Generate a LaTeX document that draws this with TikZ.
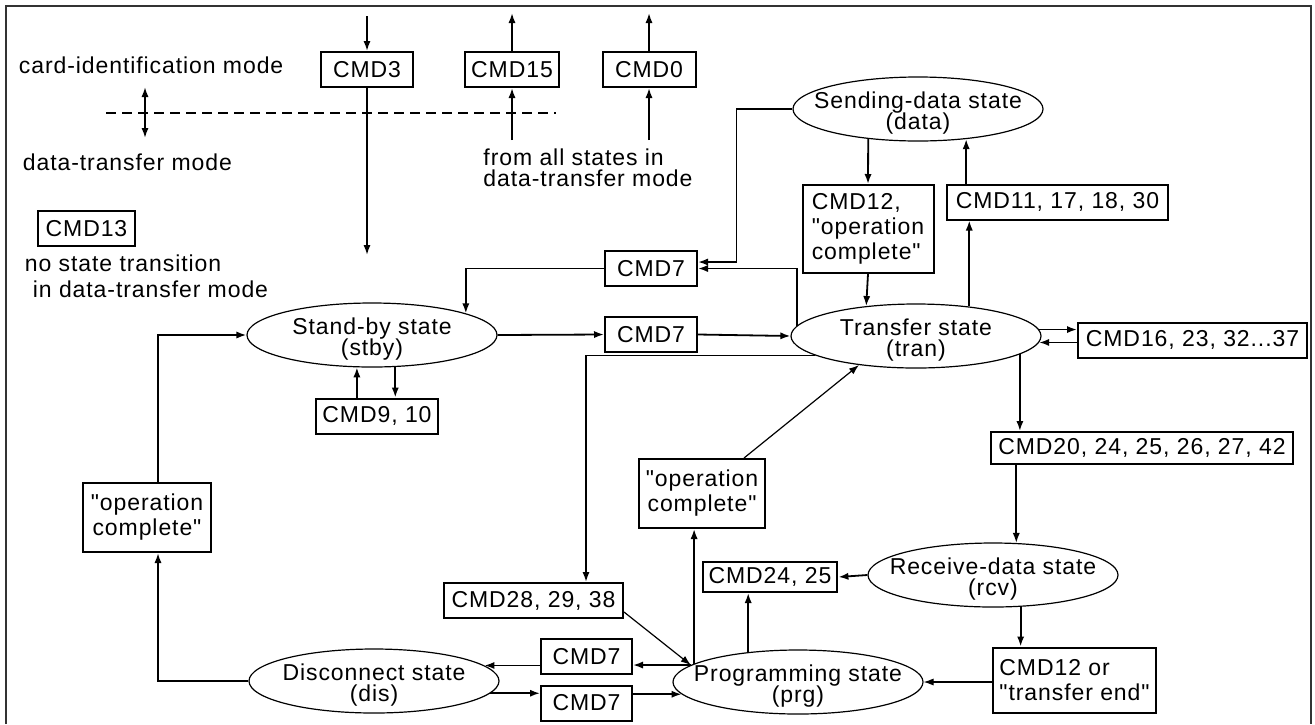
\documentclass[tikz,border=0pt]{standalone}
\usepackage{fontspec}
\setmainfont{Liberation Sans}[LetterSpace=4.0,Ligatures=TeXOff]
\usetikzlibrary{arrows.meta,shapes.geometric}

\newcommand\boxfont{\fontsize{11.5}{12.5}\selectfont\lineskiplimit=-5pt}
\newcommand\statefont{\fontsize{11.5}{10.2}\selectfont\lineskiplimit=-5pt}
\newcommand\notefont{\fontsize{11.5}{10.5}\selectfont\lineskiplimit=-5pt}

\begin{document}
\begin{tikzpicture}[x=0.5pt,y=-0.5pt,>={Latex[length=5pt,width=3.6pt]},line width=0.9pt]
    \tikzstyle{cmd}=[draw,line width=1pt,inner xsep=3pt,inner ysep=1pt,minimum height=17.5pt,font=\boxfont]
    \tikzstyle{state}=[ellipse,draw,line width=0.6pt,minimum width=125pt,minimum height=32pt,inner xsep=-20pt,inner ysep=-2pt,text height=22.6pt,align=center,font=\statefont]
    \tikzstyle{annot}=[inner sep=0pt,font=\notefont]
    \tikzstyle{flow}=[->]
    \tikzstyle{slim flow}=[->,line width=0.6pt]

    \useasboundingbox (0,0) rectangle (1315,724);
    \draw[line width=1.3pt,black!80] (6,724) -- (6,6) -- (1311,6) -- (1311,724);

    % Mode legend
    \node[annot,anchor=west] (L-card) at (18,65) {card-identification mode};
    \node[annot,anchor=west] (L-data) at (22,162) {data-transfer mode};
    \coordinate (M-up) at (145,87);
    \coordinate (M-down) at (145,138);
    \coordinate (D-left) at (106,113);
    \coordinate (D-right) at (556,113);
    \draw[dash pattern=on 5pt off 3pt,line width=0.8pt] (D-left) -- (D-right);
    \draw[<->] (M-up) -- (M-down);
    \node[cmd,minimum width=48.5pt] (C-13) at (86.5,228.5) {CMD13};
    \node[annot,anchor=west,align=left,font=\fontsize{11.5}{13}\selectfont] (L-13) at (24,276)
        {no state transition\\\hspace*{4pt}in data-transfer mode};

    % Commands at the top
    \node[cmd,minimum width=46pt] (C-3) at (367,69.5) {CMD3};
    \node[cmd,minimum width=45pt] (C-15) at (512,69.5) {CMD15};
    \node[cmd,minimum width=46.5pt] (C-0) at (649,69.5) {CMD0};
    \node[annot,align=left] (L-all) at (588,168) {from all states in\\data-transfer mode};
    \coordinate (C-3in) at (367,16);
    \coordinate (C-3out) at (367,255);
    \coordinate (C-15out) at (512,13);
    \coordinate (C-15in) at (512,140);
    \coordinate (C-0out) at (649,13);
    \coordinate (C-0in) at (649,140);
    \draw[flow] (C-3in) -- (C-3.north);
    \draw[flow] (C-3.south) -- (C-3out);
    \draw[flow] (C-15.north) -- (C-15out);
    \draw[flow] (C-15in) -- (C-15.south);
    \draw[flow] (C-0.north) -- (C-0out);
    \draw[flow] (C-0in) -- (C-0.south);

    % States
    \node[state] (S-data) at (918,109) {Sending-data state\\(data)};
    \node[state] (S-stby) at (372,335) {Stand-by state\\(stby)};
    \node[state] (S-tran) at (916,336) {Transfer state\\(tran)};
    \node[state] (S-rcv) at (993,575) {Receive-data state\\(rcv)};
    \node[state] (S-dis) at (374,681) {Disconnect state\\(dis)};
    \node[state] (S-prg) at (798,682) {Programming state\\(prg)};

    % Transitions
    \node[cmd,minimum width=65.5pt,minimum height=44pt,align=left] (C-12) at (868,229) {CMD12,\\"operation\\complete"};
    \node[cmd,minimum width=110.5pt] (C-11) at (1057.5,202) {CMD11, 17, 18, 30};
    \node[cmd,minimum width=46pt] (C-7a) at (651,268.5) {CMD7};
    \node[cmd,minimum width=46pt] (C-7b) at (651,334.5) {CMD7};
    \node[cmd,minimum width=114.5pt] (C-16) at (1192.5,340) {CMD16, 23, 32...37};
    \node[cmd,minimum width=59pt] (C-9) at (377,416) {CMD9, 10};
    \node[cmd,minimum width=151pt,minimum height=16pt] (C-20) at (1142,448) {CMD20, 24, 25, 26, 27, 42};
    \node[cmd,minimum width=64pt,minimum height=34.5pt,align=center] (O-1) at (147,517.5) {"operation\\complete"};
    \node[cmd,minimum width=63pt,minimum height=34.5pt,align=center] (O-2) at (702,493.5) {"operation\\complete"};
    \node[cmd,minimum width=67pt,minimum height=15pt] (C-24) at (770,577) {CMD24, 25};
    \node[cmd,minimum width=89.5pt] (C-28) at (533.5,600.5) {CMD28, 29, 38};
    \node[cmd,minimum width=45.5pt] (C-7c) at (586.5,656.5) {CMD7};
    \node[cmd,minimum width=45.5pt] (C-7d) at (586.5,703) {CMD7};
    \node[cmd,minimum width=81.5pt,minimum height=32.5pt,align=left] (C-12b) at (1074.5,680) {CMD12 or\\"transfer end"};

    % sending-data / transfer
    \draw[flow] (S-data.west) -- ++(-56,0) |- ([yshift=3.25pt]C-7a.east);
    \draw[flow] (S-tran.175) |- (C-7a.east);
    \draw[flow] (C-7a.west) -| (S-stby.13);
    \draw[flow] (S-data.211) -- (C-12.north);
    \draw[flow] (C-12.south) -- (S-tran.149);
    \draw[flow] (S-tran.29) -- (S-tran.29 |- C-11.south);
    \draw[flow] (S-data.328 |- C-11.north) -- (S-data.328);
    \draw[flow] (S-stby.east) -- (C-7b.west);
    \draw[flow] (C-7b.east) -- (S-tran.west);
    \draw[flow] (S-tran.3) -- (S-tran.3 -| C-16.west);
    \draw[flow] (S-tran.357 -| C-16.west) -- (S-tran.357);
    \draw[flow] (S-stby.245 |- C-9.north) -- (S-stby.245);
    \draw[flow] (S-stby.306) -- (S-stby.306 |- C-9.north);
    % transfer / receive / programming
    \draw[flow] (S-tran.350) -- (S-tran.350 |- C-20.north);
    \draw[flow] (S-rcv.54 |- C-20.south) -- (S-rcv.54);
    \draw[flow] (S-rcv.311) -- (S-rcv.311 |- C-12b.north);
    \draw[slim flow] (C-12b.west |- S-prg.east) -- (S-prg.east);
    \draw[flow] (S-rcv.west) -- (C-24.east);
    \draw[flow] (S-prg.149) -- (S-prg.149 |- C-24.south);
    \draw[flow] (S-prg.170) -- (S-prg.170 |- O-2.south);
    \draw[slim flow] ([xshift=21pt]O-2.north) -- (S-tran.207);
    \draw[flow] (S-tran.191) -| ([xshift=26.25pt]C-28.north);
    \draw[slim flow] ([yshift=3.5pt]C-28.south east) -- (S-prg.171);
    % disconnect
    \draw[flow] (S-prg.171) -- (S-prg.171 -| C-7c.east);
    \draw[flow] (C-7c.west |- S-dis.8) -- (S-dis.8);
    \draw[flow] (S-dis.354) -- (S-dis.354 -| C-7d.west);
    \draw[flow] (S-prg.186 -| C-7d.east) -- (S-prg.186);
    \draw[flow] (S-dis.west) -| ([xshift=5.5pt]O-1.south);
    \draw[flow] ([xshift=5.5pt]O-1.north) |- (S-stby.west);
\end{tikzpicture}
\end{document}
